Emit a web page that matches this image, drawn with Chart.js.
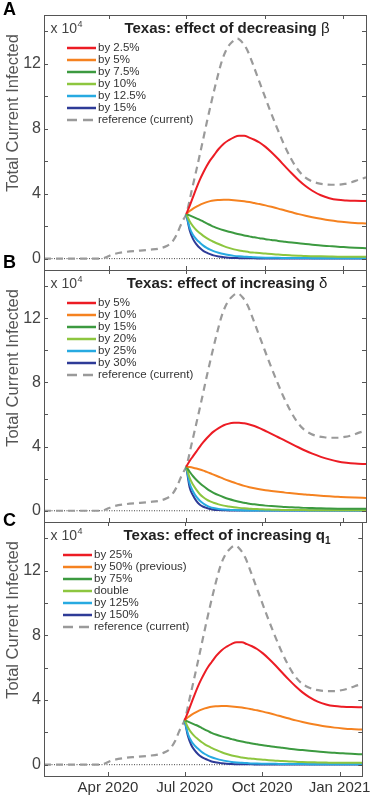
<!DOCTYPE html>
<html>
<head>
<meta charset="utf-8">
<script src="https://cdn.jsdelivr.net/npm/chart.js@4/dist/chart.umd.min.js"></script>
<style>
html, body { margin: 0; padding: 0; background: #fff; }
#wrap { position: relative; width: 374px; height: 799px; overflow: hidden; }
#wrap canvas { position: absolute; left: 0; top: 0; }
.tag { position: absolute; left: 3px; font: bold 18px "Liberation Sans", Arial, sans-serif; line-height: 1; color: #000; }
</style>
</head>
<body>
<div id="wrap">
  <canvas id="cA" width="374" height="799"></canvas>
  <canvas id="cB" width="374" height="799"></canvas>
  <canvas id="cC" width="374" height="799"></canvas>
  <div class="tag" style="top:0px">A</div>
  <div class="tag" style="top:253px">B</div>
  <div class="tag" style="top:511px">C</div>
</div>
<script>
// days counted from 1 Jan 2020
const xMin = 15, xMax = 393
const xTickDays = [91, 182, 274, 366]
const xTickLabels = ['Apr 2020', 'Jul 2020', 'Oct 2020', 'Jan 2021']
const yTickVals = [0, 2, 4, 6, 8, 10, 12, 14]

// reference run (grey dashed), same in all panels, units of 10^4
const refDays = [15, 40, 60, 80, 86, 95, 112, 125, 139, 150, 159, 165, 171, 175, 178, 182, 188, 194, 200, 206, 212, 218, 224, 230, 236, 242, 248, 254, 260, 266, 272, 280, 288, 296, 304, 312, 320, 328, 336, 344, 352, 360, 368, 376, 384, 393]
const refValues = [0, 0, 0, 0, 0.05, 0.25, 0.42, 0.48, 0.55, 0.62, 0.78, 1.0, 1.5, 2.0, 2.35, 2.75, 4.1, 5.48, 6.9, 8.36, 9.75, 11.05, 12.2, 12.95, 13.35, 13.55, 13.3, 12.8, 12.0, 11.15, 10.3, 9.18, 8.12, 7.12, 6.25, 5.55, 5.07, 4.8, 4.65, 4.58, 4.55, 4.55, 4.6, 4.7, 4.85, 5.0]

// scenarios start on 1 Jul 2020
const scenDays = [182, 186, 190, 194, 198, 202, 206, 210, 214, 220, 226, 232, 238, 244, 250, 256, 262, 268, 275, 282, 290, 298, 306, 314, 322, 330, 340, 350, 360, 370, 380, 393]

// panel A: decreasing beta
const betaRed = [2.75, 3.25, 3.8, 4.35, 4.86, 5.3, 5.7, 6.05, 6.33, 6.75, 7.08, 7.3, 7.47, 7.56, 7.56, 7.45, 7.32, 7.15, 6.88, 6.55, 6.13, 5.68, 5.24, 4.83, 4.47, 4.18, 3.9, 3.72, 3.62, 3.58, 3.56, 3.55]
const betaOrange = [2.75, 2.93, 3.08, 3.2, 3.31, 3.4, 3.48, 3.54, 3.58, 3.61, 3.63, 3.62, 3.6, 3.57, 3.53, 3.48, 3.42, 3.36, 3.28, 3.19, 3.08, 2.96, 2.85, 2.74, 2.64, 2.55, 2.45, 2.36, 2.29, 2.24, 2.2, 2.17]
const betaGreen = [2.75, 2.66, 2.57, 2.48, 2.39, 2.28, 2.17, 2.07, 1.97, 1.85, 1.75, 1.66, 1.58, 1.5, 1.43, 1.37, 1.31, 1.26, 1.2, 1.15, 1.09, 1.04, 0.99, 0.94, 0.9, 0.86, 0.81, 0.77, 0.73, 0.7, 0.67, 0.64]
const betaLime = [2.75, 2.3, 1.98, 1.75, 1.57, 1.4, 1.26, 1.14, 1.04, 0.9, 0.77, 0.66, 0.57, 0.5, 0.45, 0.4, 0.37, 0.34, 0.31, 0.28, 0.25, 0.22, 0.2, 0.18, 0.16, 0.15, 0.14, 0.13, 0.12, 0.12, 0.12, 0.12]
const betaCyan = [2.75, 1.9, 1.45, 1.18, 0.98, 0.8, 0.66, 0.55, 0.46, 0.36, 0.28, 0.22, 0.17, 0.14, 0.12, 0.1, 0.08, 0.07, 0.06, 0.05, 0.05, 0.04, 0.04, 0.04, 0.04, 0.03, 0.03, 0.03, 0.03, 0.03, 0.03, 0.03]
const betaBlue = [2.75, 1.75, 1.2, 0.88, 0.65, 0.48, 0.37, 0.28, 0.2, 0.13, 0.09, 0.06, 0.04, 0.03, 0.02, 0.02, 0.02, 0.01, 0.01, 0.01, 0.01, 0.01, 0.01, 0.01, 0.01, 0.01, 0.01, 0.01, 0.01, 0.01, 0.01, 0.01]
const betaLabels = ['by 2.5%', 'by 5%', 'by 7.5%', 'by 10%', 'by 12.5%', 'by 15%']

// panel B: increasing delta
const deltaRed = [2.75, 3.1, 3.4, 3.7, 4.0, 4.27, 4.52, 4.74, 4.93, 5.15, 5.33, 5.43, 5.48, 5.49, 5.45, 5.38, 5.28, 5.15, 4.97, 4.79, 4.58, 4.37, 4.15, 3.94, 3.74, 3.56, 3.36, 3.2, 3.07, 2.99, 2.94, 2.91]
const deltaOrange = [2.75, 2.72, 2.68, 2.63, 2.57, 2.5, 2.42, 2.34, 2.25, 2.12, 1.99, 1.87, 1.76, 1.65, 1.55, 1.47, 1.4, 1.34, 1.28, 1.23, 1.18, 1.13, 1.09, 1.05, 1.02, 0.98, 0.94, 0.9, 0.87, 0.84, 0.82, 0.8]
const deltaGreen = [2.75, 2.43, 2.15, 1.92, 1.72, 1.54, 1.38, 1.24, 1.12, 0.97, 0.84, 0.73, 0.64, 0.56, 0.5, 0.44, 0.4, 0.36, 0.32, 0.29, 0.27, 0.24, 0.22, 0.2, 0.18, 0.17, 0.15, 0.14, 0.13, 0.12, 0.12, 0.12]
const deltaLime = [2.75, 2.05, 1.62, 1.3, 1.03, 0.84, 0.69, 0.58, 0.5, 0.4, 0.32, 0.27, 0.22, 0.18, 0.15, 0.13, 0.11, 0.1, 0.08, 0.07, 0.06, 0.05, 0.04, 0.04, 0.04, 0.03, 0.03, 0.03, 0.03, 0.03, 0.03, 0.03]
const deltaCyan = [2.75, 1.7, 1.2, 0.86, 0.62, 0.45, 0.32, 0.23, 0.17, 0.11, 0.08, 0.06, 0.04, 0.03, 0.02, 0.02, 0.02, 0.02, 0.02, 0.02, 0.02, 0.02, 0.02, 0.02, 0.02, 0.02, 0.02, 0.02, 0.02, 0.02, 0.02, 0.02]
const deltaBlue = [2.75, 1.45, 0.95, 0.6, 0.38, 0.25, 0.17, 0.11, 0.07, 0.04, 0.03, 0.02, 0.02, 0.01, 0.01, 0.01, 0.01, 0.01, 0.01, 0.01, 0.01, 0.01, 0.01, 0.01, 0.01, 0.01, 0.01, 0.01, 0.01, 0.01, 0.01, 0.01]
const deltaLabels = ['by 5%', 'by 10%', 'by 15%', 'by 20%', 'by 25%', 'by 30%']

// panel C: increasing q1 (curves read the same as panel A)
const q1Red = betaRed, q1Orange = betaOrange, q1Green = betaGreen
const q1Lime = betaLime, q1Cyan = betaCyan, q1Blue = betaBlue
const q1Labels = ['by 25%', 'by 50% (previous)', 'by 75%', 'double', 'by 125%', 'by 150%']

const lineColors = ['#ec1c24', '#f58220', '#3c9a40', '#8dc63f', '#27aae1', '#2e3b97']
const FONT = '"Liberation Sans", Arial, Helvetica, sans-serif'

function makeDatasets(curves, labels) {
    const ds = curves.map((vals, i) => ({
        label: labels[i],
        data: scenDays.map((d, j) => ({ x: d, y: vals[j] })),
        borderColor: lineColors[i],
        borderWidth: 2,
        pointRadius: 0,
        cubicInterpolationMode: 'monotone'
    }))
    ds.push({
        label: 'reference (current)',
        data: refDays.map((d, j) => ({ x: d, y: refValues[j] })),
        borderColor: '#9a9a9a',
        borderWidth: 2.2,
        borderDash: [7, 5],
        pointRadius: 0,
        cubicInterpolationMode: 'monotone'
    })
    ds.push({
        label: '',
        data: [{ x: xMin, y: 0 }, { x: xMax, y: 0 }],
        borderColor: '#444',
        borderWidth: 1,
        borderDash: [1, 1.5],
        pointRadius: 0
    })
    return ds
}

// frame, inward ticks, title, multiplier, legend and y label
const decor = {
    id: 'decor',
    afterDatasetsDraw(chart, args, o) {
        const { ctx, chartArea: a, scales: { x, y } } = chart
        ctx.save()
        ctx.strokeStyle = '#555'
        ctx.lineWidth = 1
        ctx.beginPath()
        xTickDays.forEach(d => {
            const px = Math.round(x.getPixelForValue(d)) + 0.5
            ctx.moveTo(px, a.top); ctx.lineTo(px, a.top + 4)
            ctx.moveTo(px, a.bottom); ctx.lineTo(px, a.bottom - 4)
        })
        yTickVals.forEach(v => {
            const py = Math.round(y.getPixelForValue(v)) + 0.5
            ctx.moveTo(a.left, py); ctx.lineTo(a.left + 4, py)
            ctx.moveTo(a.right, py); ctx.lineTo(a.right - 4, py)
        })
        ctx.stroke()
        ctx.strokeRect(Math.round(a.left) + 0.5, Math.round(a.top) + 0.5, Math.round(a.right - a.left), Math.round(a.bottom - a.top))

        // title
        ctx.textAlign = 'left'
        ctx.textBaseline = 'alphabetic'
        ctx.fillStyle = '#222'
        let tw = 0
        o.title.forEach(p => { ctx.font = p.font; tw += ctx.measureText(p.text).width })
        let tx = a.left + 183 - tw / 2
        o.title.forEach(p => {
            ctx.font = p.font
            ctx.fillText(p.text, tx, a.top + 18 + (p.dy || 0))
            tx += ctx.measureText(p.text).width
        })

        // x 10^4
        ctx.fillStyle = '#444'
        ctx.font = '14px ' + FONT
        ctx.fillText('x 10', a.left + 6.5, a.top + 18)
        const mw = ctx.measureText('x 10').width
        ctx.font = '9px ' + FONT
        ctx.fillText('4', a.left + 7 + mw, a.top + 12)

        // legend
        const items = chart.data.datasets.filter(d => d.label)
        ctx.font = '11.5px ' + FONT
        ctx.textBaseline = 'middle'
        items.forEach((d, i) => {
            const ly = a.top + 33 + i * 12
            ctx.strokeStyle = d.borderColor
            ctx.lineWidth = 2.5
            ctx.setLineDash(d.borderDash ? [10, 6] : [])
            ctx.beginPath()
            ctx.moveTo(a.left + o.lx, ly)
            ctx.lineTo(a.left + o.lx + 29, ly)
            ctx.stroke()
            ctx.setLineDash([])
            ctx.fillStyle = '#333'
            ctx.fillText(d.label, a.left + o.lx + 31, ly)
        })

        // y label
        ctx.translate(18, a.top + o.yl)
        ctx.rotate(-Math.PI / 2)
        ctx.textAlign = 'center'
        ctx.textBaseline = 'alphabetic'
        ctx.font = '16.5px ' + FONT
        ctx.fillStyle = '#555'
        ctx.fillText('Total Current Infected', 0, 0)
        ctx.restore()
    }
}

function makeChart(id, curves, labels, title, pad, lx, showX) {
    return new Chart(document.getElementById(id), {
        type: 'line',
        data: { datasets: makeDatasets(curves, labels) },
        plugins: [decor],
        options: {
            responsive: false,
            animation: false,
            layout: { padding: { top: pad.top, bottom: pad.bottom, left: 0, right: 8 } },
            plugins: {
                legend: { display: false },
                tooltip: { enabled: false },
                decor: { title: title, lx: lx, yl: 98 }
            },
            scales: {
                x: {
                    type: 'linear', min: xMin, max: xMax,
                    grid: { display: false, drawTicks: false },
                    border: { display: false },
                    ticks: {
                        display: showX, padding: 3, maxRotation: 0, autoSkip: false,
                        color: '#333', font: { family: FONT, size: 15 },
                        callback: v => xTickLabels[xTickDays.indexOf(v)] || ''
                    },
                    afterBuildTicks: s => { s.ticks = xTickDays.map(v => ({ value: v })) },
                    afterFit: s => { s.height = showX ? 23 : 0 }
                },
                y: {
                    type: 'linear', min: -0.7, max: 15,
                    grid: { display: false, drawTicks: false },
                    border: { display: false },
                    ticks: {
                        padding: 3, color: '#444', font: { family: FONT, size: 16 },
                        callback: v => (v % 4 === 0 ? v : '')
                    },
                    afterBuildTicks: s => { s.ticks = yTickVals.map(v => ({ value: v })) },
                    afterFit: s => { s.width = 44 }
                }
            }
        }
    })
}

const bold = 'bold 15px ' + FONT
makeChart('cA', [betaRed, betaOrange, betaGreen, betaLime, betaCyan, betaBlue], betaLabels,
    [{ text: 'Texas: effect of decreasing ', font: bold }, { text: 'β', font: '15px ' + FONT }],
    { top: 15, bottom: 529 }, 23, false)
makeChart('cB', [deltaRed, deltaOrange, deltaGreen, deltaLime, deltaCyan, deltaBlue], deltaLabels,
    [{ text: 'Texas: effect of increasing ', font: bold }, { text: 'δ', font: '15px ' + FONT }],
    { top: 270, bottom: 277 }, 23, false)
makeChart('cC', [q1Red, q1Orange, q1Green, q1Lime, q1Cyan, q1Blue], q1Labels,
    [{ text: 'Texas: effect of increasing q', font: bold }, { text: '1', font: 'bold 10px ' + FONT, dy: 4 }],
    { top: 522, bottom: 0 }, 19, true)
</script>
</body>
</html>
